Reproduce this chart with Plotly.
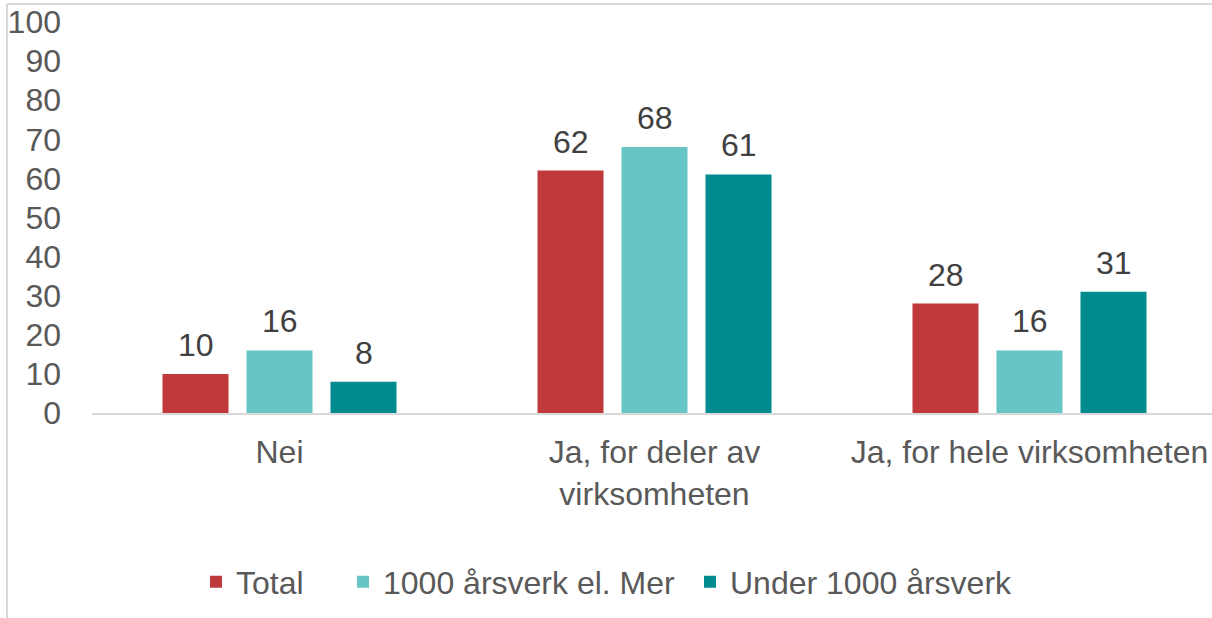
import plotly.graph_objects as go

categories = ["Nei", "Ja, for deler av<br>virksomheten", "Ja, for hele virksomheten"]
series_names = ["Total", "1000 årsverk el. Mer", "Under 1000 årsverk"]
total = [10, 62, 28]
large = [16, 68, 16]
small = [8, 61, 31]
colors = ["#C0393B", "#68C5C5", "#008C8F"]
y_ticks = [0, 10, 20, 30, 40, 50, 60, 70, 80, 90, 100]

W, H = 1217, 618
ML, MR, MT, MB = 92, 0, 22, 205
FONT = "Liberation Sans, Arial, sans-serif"
FS = 32
BARGAP = 0.328
BARGROUPGAP = 0.214

pw = W - ML - MR
ph = H - MT - MB
def px(x):
    return (x - ML) / pw
def py(y):
    return (H - MB - y) / ph

legend_ids = ["legend", "legend2", "legend3"]
legend_x = [196, 343, 690]

series = [total, large, small]
n = len(series)
slot_px = pw / len(categories) * (1 - BARGAP) / n

fig = go.Figure()
annotations = []
for i, (name, vals, col, lid) in enumerate(zip(series_names, series, colors, legend_ids)):
    fig.add_trace(go.Bar(
        x=categories, y=vals, name=name, legend=lid,
        marker=dict(color=col, line=dict(width=0)),
        hoverinfo="x+y+name",
    ))
    shift = (i - (n - 1) / 2) * slot_px
    for cat, v in zip(categories, vals):
        annotations.append(dict(
            x=cat, y=v, xref="x", yref="y", text=str(v), showarrow=False,
            xanchor="center", yanchor="bottom", xshift=shift, yshift=9,
            font=dict(size=FS, color="#404040", family=FONT),
        ))

legend_style = dict(orientation="h", xanchor="left", yanchor="middle", y=py(582),
                    font=dict(size=FS, color="#595959", family=FONT),
                    bgcolor="rgba(0,0,0,0)", borderwidth=0)
layout_legends = {}
for lid, lx in zip(legend_ids, legend_x):
    layout_legends[lid] = dict(legend_style, x=px(lx))

fig.update_layout(
    width=W, height=H,
    margin=dict(l=ML, r=MR, t=MT, b=MB, pad=0),
    paper_bgcolor="white", plot_bgcolor="white",
    barmode="group", bargap=BARGAP, bargroupgap=BARGROUPGAP,
    font=dict(family=FONT, color="#595959", size=FS),
    showlegend=True,
    annotations=annotations,
    xaxis=dict(showgrid=False, showline=True, linecolor="#D9D9D9", linewidth=1.5,
               ticks="", ticklabelstandoff=10,
               tickfont=dict(size=FS, color="#595959"), fixedrange=True),
    yaxis=dict(range=[0, 100], tickvals=y_ticks, showgrid=False, zeroline=False,
               showline=False, ticks="", ticklabelstandoff=30,
               tickfont=dict(size=FS, color="#595959")),
    shapes=[
        dict(type="line", xref="paper", yref="paper", x0=px(7), x1=1,
             y0=py(4), y1=py(4), line=dict(color="#D9D9D9", width=2)),
        dict(type="line", xref="paper", yref="paper", x0=px(7), x1=px(7),
             y0=py(4), y1=py(618), line=dict(color="#D9D9D9", width=2)),
    ],
    **layout_legends,
)

fig.write_html(
    "out.html",
    config={"displayModeBar": False},
    post_script="document.body.style.margin='0';document.body.style.padding='0';document.body.style.overflow='hidden';",
)
